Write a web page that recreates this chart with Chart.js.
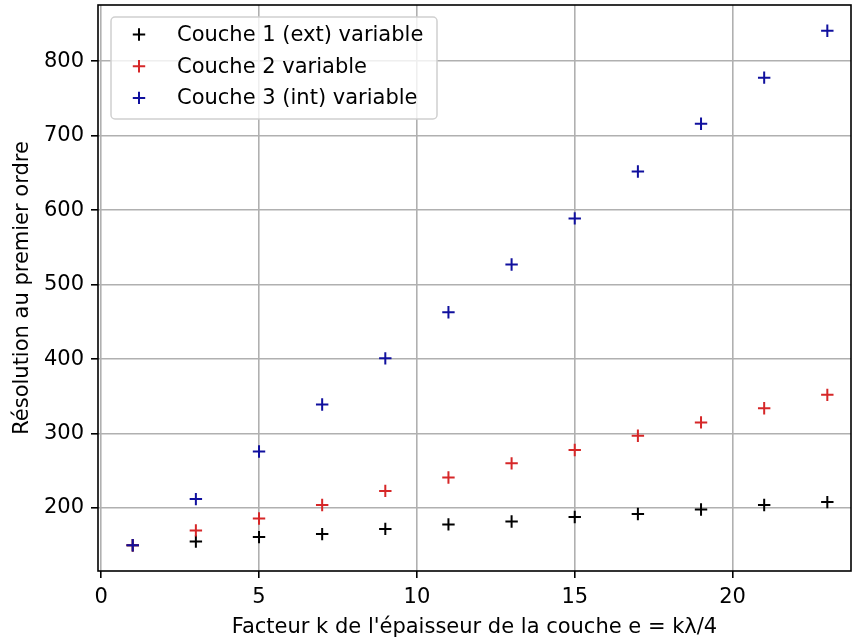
<!DOCTYPE html>
<html>
<head>
<meta charset="utf-8">
<script src="https://cdn.jsdelivr.net/npm/chart.js@4"></script>
<style>
  html, body { margin: 0; padding: 0; background: #fff; overflow: hidden; }
</style>
</head>
<body>
<canvas id="resChart" width="852" height="639"></canvas>
<script>
// data
const kValues = [1, 3, 5, 7, 9, 11, 13, 15, 17, 19, 21, 23];
const couche1 = [150, 155, 161, 165, 172, 178, 182, 188, 192, 198, 204, 208];
const couche2 = [150, 170, 186, 204, 223, 241, 260, 278, 297, 315, 334, 352];
const couche3 = [150, 212, 276, 339, 401, 463, 527, 589, 652, 716, 778, 841];
const seriesLabels = ['Couche 1 (ext) variable', 'Couche 2 variable', 'Couche 3 (int) variable'];
const seriesColors = ['#000000', '#d62728', '#10109e'];
const xTicks = [0, 5, 10, 15, 20];
const yTicks = [200, 300, 400, 500, 600, 700, 800];
const xTitle = "Facteur k de l'épaisseur de la couche e = kλ/4";
const yTitle = 'Résolution au premier ordre';

const fontSize = 21;
Chart.defaults.font.family = '"DejaVu Sans", sans-serif';
Chart.defaults.font.size = fontSize;
Chart.defaults.color = '#000';

const toPoints = function (ys) {
  return kValues.map((k, i) => ({ x: k, y: ys[i] }));
};

// matplotlib-like frame around the plot area
const frame = {
  id: 'frame',
  afterDatasetsDraw(chart) {
    const a = chart.chartArea, ctx = chart.ctx;
    ctx.save();
    ctx.strokeStyle = '#000';
    ctx.lineWidth = 1.6;
    ctx.strokeRect(a.left, a.top, a.right - a.left, a.bottom - a.top);
    ctx.restore();
  }
};

// legend box inside the axes, upper left
const boxLegend = {
  id: 'boxLegend',
  afterDraw(chart) {
    const ctx = chart.ctx, a = chart.chartArea;
    const x0 = a.left + 13, y0 = a.top + 12, w = 326, h = 102;
    ctx.save();
    ctx.beginPath();
    ctx.roundRect(x0, y0, w, h, 4);
    ctx.fillStyle = 'rgba(255,255,255,0.8)';
    ctx.fill();
    ctx.strokeStyle = '#d0d0d0';
    ctx.lineWidth = 1.5;
    ctx.stroke();
    ctx.font = fontSize + 'px "DejaVu Sans"';
    ctx.textBaseline = 'middle';
    chart.data.datasets.forEach((ds, i) => {
      const cy = y0 + 17.5 + i * 31.7;
      ctx.strokeStyle = ds.borderColor;
      ctx.lineWidth = 2;
      ctx.beginPath();
      ctx.moveTo(x0 + 28 - 6.2, cy); ctx.lineTo(x0 + 28 + 6.2, cy);
      ctx.moveTo(x0 + 28, cy - 6.2); ctx.lineTo(x0 + 28, cy + 6.2);
      ctx.stroke();
      ctx.fillStyle = '#000';
      ctx.fillText(ds.label, x0 + 66, cy + 1);
    });
    ctx.restore();
  }
};

const makeSet = function (i, values, order) {
  return {
    label: seriesLabels[i],
    data: toPoints(values),
    borderColor: seriesColors[i],
    backgroundColor: seriesColors[i],
    pointStyle: 'cross',
    pointRadius: 6.2,
    pointBorderWidth: 2,
    showLine: false,
    order: order
  };
};

new Chart(document.getElementById('resChart'), {
  type: 'scatter',
  data: {
    datasets: [makeSet(0, couche1, 2), makeSet(1, couche2, 1), makeSet(2, couche3, 0)]
  },
  options: {
    responsive: false,
    animation: false,
    devicePixelRatio: 1,
    layout: { autoPadding: false, padding: { top: 5, right: 1, left: 0, bottom: 0 } },
    plugins: { legend: { display: false }, tooltip: { enabled: false } },
    scales: {
      x: {
        type: 'linear',
        min: -0.1,
        max: 23.75,
        afterBuildTicks: s => { s.ticks = xTicks.map(v => ({ value: v })); },
        afterFit: s => { s.height = 68; s.paddingLeft = 0; s.paddingRight = 0; },
        grid: { color: '#b0b0b0', lineWidth: 1.6, tickColor: '#000', tickLength: 7, tickWidth: 1.6 },
        border: { display: false },
        ticks: { padding: 7, maxRotation: 0 },
        title: { display: true, text: xTitle, padding: { top: 0, bottom: -1 } }
      },
      y: {
        type: 'linear',
        min: 115.45,
        max: 875.55,
        afterBuildTicks: s => { s.ticks = yTicks.map(v => ({ value: v })); },
        afterFit: s => { s.width = 98; s.paddingTop = 0; s.paddingBottom = 0; },
        grid: { color: '#b0b0b0', lineWidth: 1.6, tickColor: '#000', tickLength: 7, tickWidth: 1.6 },
        border: { display: false },
        ticks: { padding: 7 },
        title: { display: true, text: yTitle, padding: { top: 10, bottom: 0 } }
      }
    }
  },
  plugins: [frame, boxLegend]
});
</script>
</body>
</html>
